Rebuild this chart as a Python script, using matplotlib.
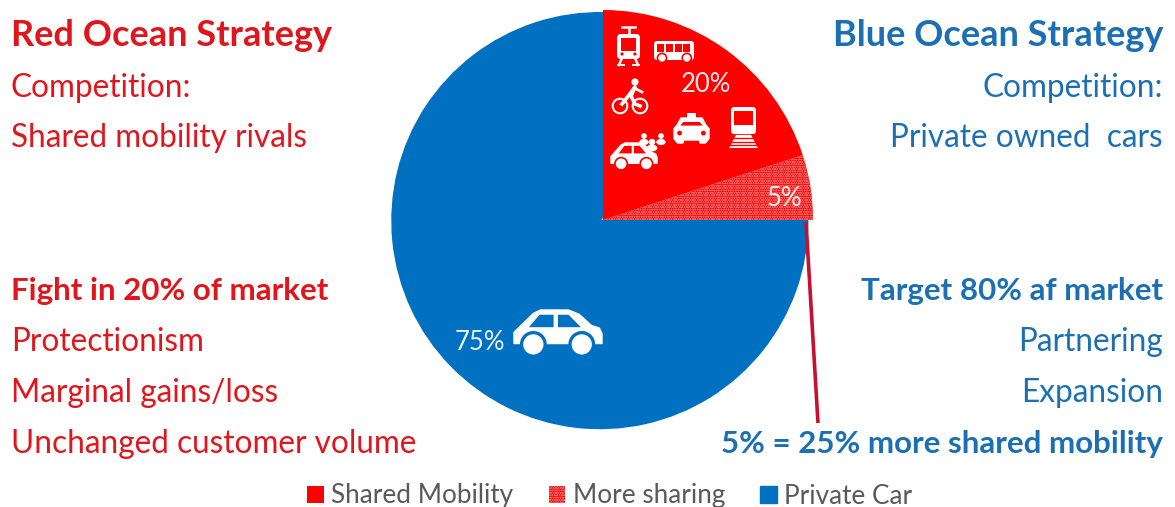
import matplotlib
matplotlib.use("Agg")
import matplotlib.pyplot as plt
from matplotlib.patches import Polygon, Circle, Rectangle, FancyBboxPatch, Ellipse

W, H = 1175, 507
RED = "#FF0000"
BLUE = "#0070C0"
TXT_RED = "#E0161C"
TXT_BLUE = "#1B6FB3"
GREY = "#595959"

segments = ["Shared Mobility", "More sharing", "Private Car"]
shares = [20, 5, 75]
share_labels = ["20%", "5%", "75%"]

left_text = ["Red Ocean Strategy", "Competition:", "Shared mobility rivals", "Fight in 20% of market",
             "Protectionism", "Marginal gains/loss", "Unchanged customer volume"]
right_text = ["Blue Ocean Strategy", "Competition:", "Private owned  cars", "Target 80% af market",
              "Partnering", "Expansion", "5% = 25% more shared mobility"]

# Row layout shared by both text columns
row_y = [35, 88, 138, 291, 342, 393, 444]
left_style = [(26, "bold"), (22.7, "normal"), (22.7, "normal"), (22.5, "bold"),
              (22.7, "normal"), (22.7, "normal"), (22.7, "normal")]
right_style = [(26, "bold"), (22.7, "normal"), (22.7, "normal"), (22.5, "bold"),
               (22.7, "normal"), (22.7, "normal"), (22.5, "bold")]

plt.rcParams["font.family"] = ["Lato", "DejaVu Sans"]
plt.rcParams["hatch.linewidth"] = 0.6
fig = plt.figure(figsize=(W / 100, H / 100), dpi=100)

# Pie: centre (603, 220), radius 210 px
cx, cy, r = 603, 220, 210
ax = fig.add_axes([(cx - r) / W, 1 - (cy + r) / H, 2 * r / W, 2 * r / H])
wedges, _ = ax.pie(shares, colors=[RED, RED, BLUE], startangle=90, counterclock=False, radius=1)
wedges[1].set_hatch("ooooooo")
wedges[1].set_edgecolor("#EE5E5E")
wedges[1].set_linewidth(0)
# The blue slice sits slightly off-centre and runs under the red ones
wedges[2].set_center((-0.015, -0.003))
wedges[2].set_radius(0.99)
wedges[2].set_theta1(wedges[2].theta1 - 40)
wedges[2].set_edgecolor(BLUE)
wedges[2].set_linewidth(1.0)
wedges[0].set_zorder(3)
wedges[1].set_zorder(3)
ax.set_xlim(-1, 1)
ax.set_ylim(-1, 1)
ax.axis("off")

# Overlay in pixel coordinates for text, icons and the leader line
ov = fig.add_axes([0, 0, 1, 1], facecolor="none")
ov.set_xlim(0, W)
ov.set_ylim(H, 0)
ov.axis("off")

for s, y, (size, weight) in zip(left_text, row_y, left_style):
    ov.text(11, y, s, color=TXT_RED, fontsize=size, fontweight=weight, va="center", ha="left")
for s, y, (size, weight) in zip(right_text, row_y, right_style):
    ov.text(1163, y, s, color=TXT_BLUE, fontsize=size, fontweight=weight, va="center", ha="right")

for s, (x, y) in zip(share_labels, [(706, 85), (784, 198), (480, 342)]):
    ov.text(x, y, s, color="white", fontsize=18.5, ha="center", va="center", alpha=0.92)

ov.plot([806, 818], [222, 423], color="#C8102E", lw=2.6, solid_capstyle="butt")


def add(p):
    ov.add_patch(p)


def car(x0, y0, w, h, body="white", bg=RED):
    """Side-view car icon filling the box (x0, y0, w, h)."""
    X = lambda u: x0 + u * w
    Y = lambda v: y0 + v * h
    shape = [(0.0, .78), (0.0, .52), (.05, .42), (.22, .08), (.30, 0), (.62, 0), (.74, .10),
             (.88, .36), (.97, .42), (1.0, .55), (1.0, .78)]
    add(Polygon([(X(a), Y(b)) for a, b in shape], closed=True, fc=body, ec=body, lw=1, joinstyle="round"))
    for pane in ([(.17, .40), (.29, .11), (.45, .11), (.45, .40)], [(.50, .11), (.62, .11), (.76, .40), (.50, .40)]):
        add(Polygon([(X(a), Y(b)) for a, b in pane], closed=True, fc=bg, ec="none"))
    rw = 0.125 * w
    for u in (.22, .77):
        add(Circle((X(u), Y(.80)), rw * 1.22, fc=bg, ec="none"))
        add(Circle((X(u), Y(.80)), rw * .92, fc=body, ec="none"))


def tram(x, y, w, h):
    ov.plot([x + w / 2, x + w / 2], [y + 3, y + 9], color="white", lw=1.8)
    ov.plot([x + w * .2, x + w * .8], [y + 2, y + 2], color="white", lw=1.8)
    add(FancyBboxPatch((x, y + 9), w, h - 15, boxstyle="round,pad=0,rounding_size=4", fc="white", ec="none"))
    add(Rectangle((x + 4, y + 13), w - 8, 13, fc=RED, ec="none"))
    for u in (.22, .78):
        add(Circle((x + u * w, y + h - 11), 1.6, fc=RED, ec="none"))
    ov.plot([x + 5, x + 2], [y + h - 7, y + h], color="white", lw=1.8)
    ov.plot([x + w - 5, x + w - 2], [y + h - 7, y + h], color="white", lw=1.8)
    ov.plot([x + 1, x + 7], [y + h, y + h], color="white", lw=1.4)
    ov.plot([x + w - 7, x + w - 1], [y + h, y + h], color="white", lw=1.4)


def bus(x, y, w, h):
    add(FancyBboxPatch((x, y), w, h - 3, boxstyle="round,pad=0,rounding_size=3", fc="white", ec="none"))
    for i in range(4):
        add(Rectangle((x + 3 + i * 8.8, y + 3), 7, 7.5, fc=RED, ec="none"))
    for u in (.2, .82):
        add(Circle((x + u * w, y + h - 5), 5.4, fc=RED, ec="none"))
        add(Circle((x + u * w, y + h - 5), 3.7, fc="white", ec="none"))


def bike(x, y):
    for cxb in (x + 9, x + 29):
        add(Circle((cxb, y + 28), 7.3, fc="none", ec="white", lw=1.5))
    add(Circle((x + 24, y + 4), 3.6, fc="white", ec="none"))
    ov.plot([x + 11, x + 18, x + 24, x + 20, x + 24, x + 29], [y + 26, y + 17, y + 9, y + 18, y + 26, y + 28],
            color="white", lw=2.6, solid_joinstyle="round")
    ov.plot([x + 23, x + 31], [y + 10, y + 14], color="white", lw=2)


def taxi(x, y, w, h):
    add(Rectangle((x + w * .38, y), w * .24, 5, fc="white", ec="none"))
    body = [(x + w * .2, y + 5), (x + w * .8, y + 5), (x + w * .92, y + h * .42), (x + w, y + h * .52),
            (x + w, y + h * .85), (x + w * .9, y + h), (x + w * .75, y + h), (x + w * .72, y + h * .9),
            (x + w * .28, y + h * .9), (x + w * .25, y + h), (x + w * .1, y + h), (x, y + h * .85),
            (x, y + h * .52), (x + w * .08, y + h * .42)]
    add(Polygon(body, closed=True, fc="white", ec="white", lw=1))
    add(Polygon([(x + w * .27, y + 9), (x + w * .73, y + 9), (x + w * .82, y + h * .42), (x + w * .18, y + h * .42)],
                closed=True, fc=RED, ec="none"))
    for u in (.16, .84):
        add(Circle((x + u * w, y + h * .67), 2.4, fc=RED, ec="none"))


def train(x, y, w, h):
    add(FancyBboxPatch((x + 2, y), w - 4, h * .66, boxstyle="round,pad=0,rounding_size=3", fc="white", ec="none"))
    add(Rectangle((x + 5, y + 4), w - 10, 14, fc=RED, ec="none"))
    add(Polygon([(x + 7, y + h * .68), (x + w - 7, y + h * .68), (x + w, y + h), (x, y + h)],
                closed=True, fc="white", ec="none"))
    for v in (.76, .85, .93):
        ov.plot([x, x + w], [y + h * v, y + h * v], color=RED, lw=1.0)


def people(x, y):
    for dx, dy, s in ((4, 4, 1.1), (21, 4, 1.1), (12, 10, 1.25)):
        add(Circle((x + dx, y + dy - 2), 2.6 * s, fc="white", ec="none"))
        add(Ellipse((x + dx, y + dy + 4), 8.5 * s, 5.5 * s, fc="white", ec="none"))


tram(617, 25, 23, 40)
bus(654, 41, 40, 22)
bike(611, 78)
taxi(674, 113, 35, 30)
train(729, 107, 29, 41)
people(640, 134)
car(611, 143, 46, 26)
car(514, 310, 88, 43, bg=BLUE)

leg = fig.legend(wedges, segments, loc="center", bbox_to_anchor=(610 / W, 1 - 496 / H), ncol=3, frameon=False,
                 fontsize=18.8, labelcolor=GREY, handlelength=0.62, handleheight=0.62,
                 handletextpad=0.3, columnspacing=1.35)

fig.savefig("out.png", dpi=100, facecolor="white")
